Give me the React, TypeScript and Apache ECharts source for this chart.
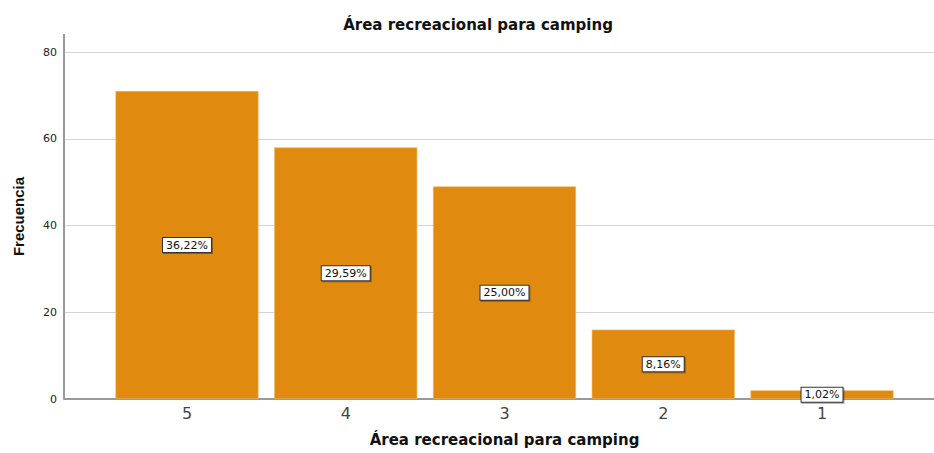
import React, { useEffect, useRef } from "react";
import * as echarts from "echarts";

const categories = ["5", "4", "3", "2", "1"];
const counts = [71, 58, 49, 16, 2];
const percentLabels = ["36,22%", "29,59%", "25,00%", "8,16%", "1,02%"];
const yTicks = [0, 20, 40, 60, 80];

const FONT = "'DejaVu Sans', 'Liberation Sans', Arial, sans-serif";
const FONT_NARROW = "'Liberation Sans', Arial, sans-serif";

export default function App() {
  const ref = useRef<HTMLDivElement>(null);
  useEffect(() => {
    if (!ref.current) return;
    const chart = echarts.init(ref.current, null, { renderer: "svg" });
    const option: any = {
      animation: false,
      backgroundColor: "#ffffff",
      textStyle: { fontFamily: FONT },
      title: {
        text: "Área recreacional para camping",
        left: 473,
        top: 12,
        textAlign: "center",
        textStyle: { fontFamily: FONT, fontSize: 15, fontWeight: "bold", color: "#111" },
      },
      grid: [
        { left: 107.6, width: 793.8, top: 52, bottom: 54, containLabel: false },
        { left: 64, right: 0, top: 52, bottom: 54, containLabel: false },
      ],
      xAxis: [
        {
          type: "category",
          gridIndex: 0,
          data: categories,
          axisLine: { show: false },
          axisTick: { show: false },
          axisLabel: { fontSize: 16, color: "#444", margin: 6, fontFamily: FONT },
          name: "Área recreacional para camping",
          nameLocation: "middle",
          nameGap: 33,
          nameTextStyle: { fontSize: 15, fontWeight: "bold", color: "#111", fontFamily: FONT },
        },
        {
          type: "value",
          gridIndex: 1,
          min: 0,
          max: 1,
          axisLine: { show: true, lineStyle: { color: "#999", width: 2 } },
          axisTick: { show: false },
          axisLabel: { show: false },
          splitLine: { show: false },
        },
      ],
      yAxis: [
        {
          type: "value",
          gridIndex: 0,
          min: 0,
          max: 80,
          interval: 20,
          show: false,
          splitLine: { show: false },
        },
        {
          type: "value",
          gridIndex: 1,
          min: 0,
          max: 80,
          interval: 20,
          axisLine: { show: false },
          axisTick: { show: false },
          axisLabel: {
            fontSize: 11,
            color: "#222",
            margin: 7,
            fontFamily: FONT,
            formatter: (v: number) => (yTicks.includes(v) ? String(v) : ""),
          },
          splitLine: { show: true, lineStyle: { color: "#d4d4d4", width: 1 } },
          name: "Frecuencia",
          nameLocation: "middle",
          nameGap: 38,
          nameTextStyle: {
            fontSize: 15,
            fontWeight: "bold",
            color: "#111",
            fontFamily: FONT_NARROW,
            padding: [0, 0, 0, 18],
          },
        },
      ],
      series: [
        {
          type: "bar",
          xAxisIndex: 0,
          yAxisIndex: 0,
          data: counts,
          barWidth: 143,
          itemStyle: { color: "#e08a0f", borderColor: "#f2b560", borderWidth: 0.6 },
          label: {
            show: true,
            position: "inside",
            formatter: (p: any) => percentLabels[p.dataIndex],
            fontSize: 11,
            color: "#111",
            fontFamily: FONT,
            backgroundColor: "#ffffff",
            borderColor: "#333",
            borderWidth: 1,
            padding: [2, 3, 1, 3],
            shadowColor: "rgba(0,0,0,0.35)",
            shadowOffsetX: 1,
            shadowOffsetY: 1,
            shadowBlur: 0,
          },
        },
      ],
      graphic: [
        {
          type: "line",
          shape: { x1: 64, y1: 34, x2: 64, y2: 399 },
          style: { stroke: "#999", lineWidth: 2 },
          z: 10,
        },
      ],
    };
    chart.setOption(option);
    return () => chart.dispose();
  }, []);
  return (
    <div
      ref={ref}
      style={{ position: "fixed", left: 0, top: 0, width: 934, height: 453 }}
    />
  );
}
